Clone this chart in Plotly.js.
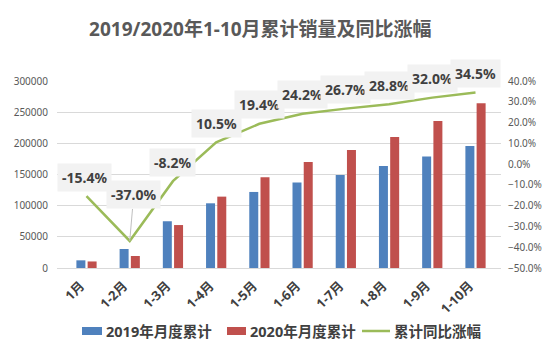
<!DOCTYPE html>
<html><head><meta charset="utf-8">
<script src="https://cdn.plot.ly/plotly-3.0.1.min.js"></script>
<style>html,body{margin:0;padding:0;background:#fff}#chart{width:554px;height:348px}</style>
</head><body><div id="chart"></div>
<script>
const categories = ["1月","1-2月","1-3月","1-4月","1-5月","1-6月","1-7月","1-8月","1-9月","1-10月"];
const sales2019 = [12300, 30500, 75000, 103800, 122000, 137000, 149300, 163700, 178700, 195800];
const sales2020 = [10500, 19300, 68900, 114500, 145600, 170000, 189400, 210300, 236000, 264400];
const growth = [-15.4, -37.0, -8.2, 10.5, 19.4, 24.2, 26.7, 28.8, 32.0, 34.5];
const seriesNames = ["2019年月度累计", "2020年月度累计", "累计同比涨幅"];
const seriesColors = ["#4f81bd", "#c0504d", "#9bbb59"];
const titleText = "2019/2020年1-10月累计销量及同比涨幅";

const FONT = "Noto Sans, Noto Sans CJK SC, sans-serif";
const PL = 57, PR = 501, PT = 81, PB = 268;
const px = p => (p - PL) / (PR - PL);
const py = p => (PB - p) / (PB - PT);

const traces = [
  {type:"bar", name:seriesNames[0], x:categories, y:sales2019, marker:{color:seriesColors[0]}, yaxis:"y"},
  {type:"bar", name:seriesNames[1], x:categories, y:sales2020, marker:{color:seriesColors[1]}, yaxis:"y"},
  {type:"scatter", mode:"lines", name:seriesNames[2], x:categories, y:growth, line:{color:seriesColors[2], width:2.5}, yaxis:"y2"}
];
const annotations = growth.map((g,i)=>{
  const a = {x:categories[i], y:g, xref:"x", yref:"y2", text:g.toFixed(1)+"%",
    font:{family:FONT, size:14, color:"#404040", weight:"bold"}, bgcolor:"#f2f2f2", borderpad:4};
  if (i===1) { Object.assign(a,{showarrow:true, ax:4, ay:-46, arrowhead:0, arrowwidth:1, arrowcolor:"#bfbfbf"}); }
  else { Object.assign(a,{showarrow:false, yshift:19, xshift:(i===0?-2:0)}); }
  return a;
});
// custom legend
const legendY = 331;
const legendItems = [
  {kind:"rect", x0:82, x1:102, tx:104},
  {kind:"rect", x0:227, x1:246, tx:248},
  {kind:"line", x0:362, x1:390, tx:392}
];
const shapes = [];
legendItems.forEach((it, i) => {
  if (it.kind === "rect") {
    shapes.push({type:"rect", xref:"paper", yref:"paper", x0:px(it.x0), x1:px(it.x1), y0:py(legendY-4), y1:py(legendY+4),
      fillcolor:seriesColors[i], line:{width:0}});
  } else {
    shapes.push({type:"line", xref:"paper", yref:"paper", x0:px(it.x0), x1:px(it.x1), y0:py(legendY), y1:py(legendY),
      line:{color:seriesColors[i], width:2.5}});
  }
  annotations.push({xref:"paper", yref:"paper", x:px(it.tx), y:py(legendY), xanchor:"left", yanchor:"middle",
    showarrow:false, text:seriesNames[i], font:{family:FONT, size:14.5, color:"#404040", weight:"bold"}});
});

const layout = {
  width:554, height:348,
  margin:{l:PL, r:554-PR, t:PT, b:348-PB},
  paper_bgcolor:"#fff", plot_bgcolor:"#fff",
  title:{text:titleText, x:0.47, xanchor:"center", y:0.935, font:{family:FONT, size:19, color:"#595959", weight:"bold"}},
  barmode:"group", bargap:0.48, bargroupgap:0.2,
  showlegend:false,
  xaxis:{type:"category", tickangle:-45, showgrid:false, zeroline:false, showline:true, linecolor:"#d9d9d9",
    tickfont:{family:FONT, size:13, color:"#404040", weight:"bold"}, ticks:"", ticklabelstandoff:4, ticklabelshift:-6},
  yaxis:{range:[0,300000], dtick:50000, showgrid:true, gridcolor:"#d9d9d9", zeroline:false, showline:false,
    tickfont:{family:FONT, size:10, color:"#595959"}, tickformat:"d", ticks:"", ticklabelstandoff:8},
  yaxis2:{overlaying:"y", side:"right", range:[-50,40], dtick:10, showgrid:false, zeroline:false, showline:false,
    tickformat:".1f", ticksuffix:"%", tickfont:{family:FONT, size:10, color:"#595959"}, ticks:"", ticklabelstandoff:6},
  shapes:shapes,
  annotations:annotations
};
Plotly.newPlot("chart", traces, layout, {displayModeBar:false, staticPlot:true});
</script></body></html>
